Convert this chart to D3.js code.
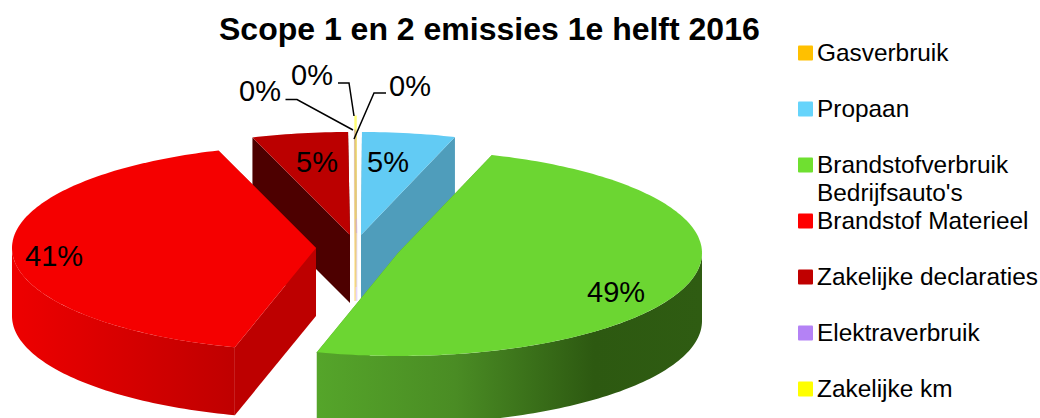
<!DOCTYPE html>
<html><head><meta charset="utf-8">
<script src="https://d3js.org/d3.v7.min.js"></script>
<style>html,body{margin:0;padding:0;background:#fff}svg{display:block}text{font-family:"Liberation Sans",Arial,sans-serif;fill:#000}</style>
</head><body><div id="c"></div>
<script>
// Data
const titleText = "Scope 1 en 2 emissies 1e helft 2016";
const categories = ["Gasverbruik","Propaan","Brandstofverbruik Bedrijfsauto's","Brandstof Materieel","Zakelijke declaraties","Elektraverbruik","Zakelijke km"];
const legendLines = [["Gasverbruik"],["Propaan"],["Brandstofverbruik","Bedrijfsauto's"],["Brandstof Materieel"],["Zakelijke declaraties"],["Elektraverbruik"],["Zakelijke km"]];
const values = [0.05,4.95,49.3,40.5,5.1,0.05,0.05];
// Styles
const topColors  = ["#ffc000","#62cbf4","#6cd632","#f50000","#bb0000","#b482f5","#ffff00"];
const cutColors  = ["#ffc000","#4f9dbb","#4f9a25","#bd0000","#4d0000","#b482f5","#ffff00"];
const wallStops  = [null,null,[["0%","#55a52a"],["36%","#4a8c24"],["72%","#2d5911"],["100%","#2f5c12"]],[["0%","#ee0000"],["100%","#bf0000"]],null,null,null];
const swatchColors = ["#ffc000","#66d4fb","#6fe030","#ff0000","#c00000","#b482f5","#ffff00"];
// Exploded centre of each slice
const centerX = [355,361,398,316,350,356.5,356];
const centerY = [233,235,253,248,235,233,219];
const rx = 304, ry = 103, depth = 68;

const svg = d3.select("#c").append("svg").attr("width",1040).attr("height",418);
const defs = svg.append("defs");
const arcs = d3.pie().sort(null).startAngle(0).endAngle(2*Math.PI)(values);
const px = (i,a)=>centerX[i]+rx*Math.sin(a);
const py = (i,a)=>centerY[i]-ry*Math.cos(a);
const line = d3.line();

function arcPts(i,a0,a1,dy){
  const n = Math.max(2,Math.ceil((a1-a0)/0.02));
  return d3.range(n+1).map(k=>{const a=a0+(a1-a0)*k/n;return [px(i,a),py(i,a)+dy];});
}
function gradient(i){
  const id="wall"+i;
  const g=defs.append("linearGradient").attr("id",id).attr("gradientUnits","userSpaceOnUse");
  const a0=Math.max(arcs[i].startAngle,Math.PI/2), a1=Math.min(arcs[i].endAngle,3*Math.PI/2);
  const left = i===3 ? px(i,3*Math.PI/2) : px(i,a1);
  g.attr("x1",left).attr("x2",px(i,a0)).attr("y1",0).attr("y2",0);
  wallStops[i].forEach(s=>g.append("stop").attr("offset",s[0]).attr("stop-color",s[1]));
  return `url(#${id})`;
}
const sliver = i => values[i] < 0.5;

function drawWalls(i){
  const d=arcs[i], g=svg.append("g");
  if(sliver(i)){g.attr("opacity",.32).attr("stroke",topColors[i]).attr("stroke-width",1.4);}
  [d.startAngle,d.endAngle].forEach(a=>{
    g.append("path").attr("fill",cutColors[i]).attr("d",line([
      [centerX[i],centerY[i]],[px(i,a),py(i,a)],[px(i,a),py(i,a)+depth],[centerX[i],centerY[i]+depth]
    ])+"Z");
  });
  const a0=Math.max(d.startAngle,Math.PI/2), a1=Math.min(d.endAngle,3*Math.PI/2);
  if(a1>a0 && wallStops[i]){
    g.append("path").attr("fill",gradient(i))
     .attr("d",line(arcPts(i,a0,a1,0).concat(arcPts(i,a0,a1,depth).reverse()))+"Z");
  }
}
function drawTop(i){
  const d=arcs[i], g=svg.append("path");
  g.attr("fill",topColors[i])
   .attr("d",line([[centerX[i],centerY[i]]].concat(arcPts(i,d.startAngle,d.endAngle,0)))+"Z");
  if(sliver(i)) g.attr("opacity",.32).attr("stroke",topColors[i]).attr("stroke-width",1.4);
}
// Back slices
drawWalls(1);drawTop(1);
drawWalls(4);drawTop(4);
// Slivers: walls first, then the tops in reverse
[6,5,0].forEach(drawWalls);
[5,6].forEach(drawTop);
// Front slices
drawWalls(3);drawTop(3);
drawWalls(2);drawTop(2);

// Title
svg.append("text").attr("x",219).attr("y",40).attr("font-size",32).attr("font-weight","bold").text(titleText);

// Data labels
const pct = v => Math.round(v)+"%";
const labelX = [389,367,587,25,296,239,291];
const labelY = [96,172,302,266,172,101,85];
svg.selectAll("text.lab").data(values).join("text").attr("class","lab")
  .attr("x",(d,i)=>labelX[i]).attr("y",(d,i)=>labelY[i]).attr("font-size",29).text(pct);

// Leader lines
const leaders = [[[386,93],[374,93],[354,139]],[[285.5,99.5],[297,99.5],[353,130]],[[338,83],[349,83],[354,116]]];
svg.selectAll("path.lead").data(leaders).join("path").attr("class","lead")
  .attr("d",d=>line(d)).attr("fill","none").attr("stroke","#000").attr("stroke-width",1.5);

// Legend
const legY = d3.scalePoint().domain(categories).range([53,389]);
const leg = svg.selectAll("g.leg").data(categories).join("g").attr("class","leg")
  .attr("transform",d=>`translate(798,${legY(d)})`);
leg.append("rect").attr("x",0).attr("y",-7.5).attr("width",15).attr("height",15).attr("rx",1).attr("fill",(d,i)=>swatchColors[i]);
leg.each(function(d,i){
  d3.select(this).selectAll("text").data(legendLines[i]).join("text")
    .attr("x",19).attr("y",(t,k)=>7.7+k*28).attr("font-size",24.4).text(t=>t);
});
</script></body></html>
